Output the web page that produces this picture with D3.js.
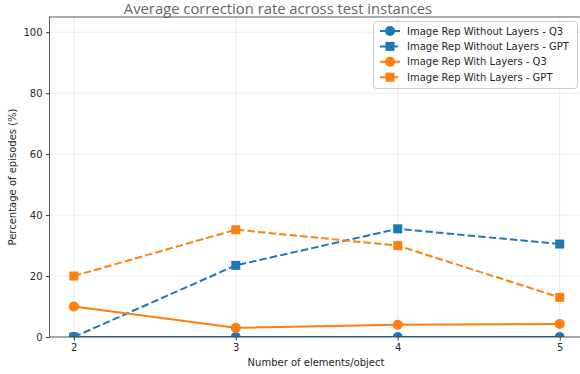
<!DOCTYPE html>
<html>
<head>
<meta charset="utf-8">
<script src="https://cdn.jsdelivr.net/npm/d3@7"></script>
<style>
  body { margin: 0; background: #fff; }
  svg { display: block; font-family: "DejaVu Sans", sans-serif; }
</style>
</head>
<body>
<div id="chart"></div>
<script>
// chart data
var xValues = [2, 3, 4, 5];
var yTicks = [0, 20, 40, 60, 80, 100];
var noLayersQ3 = [0, 0, 0, 0];
var noLayersGPT = [0, 23.5, 35.5, 30.5];
var layersQ3 = [10, 3, 4, 4.3];
var layersGPT = [20, 35.2, 30, 13];
var seriesNames = [
  "Image Rep Without Layers - Q3",
  "Image Rep Without Layers - GPT",
  "Image Rep With Layers - Q3",
  "Image Rep With Layers - GPT"
];

var width = 580, height = 374;
var blue = "#1f77b4", orange = "#ff7f0e";

var series = [
  { name: seriesNames[0], values: noLayersQ3, color: blue, marker: "circle", dash: null },
  { name: seriesNames[1], values: noLayersGPT, color: blue, marker: "square", dash: "7.4,3.2" },
  { name: seriesNames[2], values: layersQ3, color: orange, marker: "circle", dash: null },
  { name: seriesNames[3], values: layersGPT, color: orange, marker: "square", dash: "7.4,3.2" }
];

var x = d3.scaleLinear().domain([1.85, 5.15]).range([49.5, 584]);
var y = d3.scaleLinear().domain([0, 105]).range([337, 17]);

var svg = d3.select("#chart").append("svg")
  .attr("width", width)
  .attr("height", height);

svg.append("defs").append("clipPath").attr("id", "plot")
  .append("rect")
  .attr("x", x.range()[0]).attr("y", y.range()[1])
  .attr("width", x.range()[1] - x.range()[0])
  .attr("height", y.range()[0] - y.range()[1]);

// grid
svg.append("g").selectAll("line").data(yTicks).enter().append("line")
  .attr("x1", x.range()[0]).attr("x2", x.range()[1])
  .attr("y1", d => y(d)).attr("y2", d => y(d))
  .attr("stroke", "#b0b0b0").attr("stroke-opacity", 0.3).attr("stroke-width", 0.8);
svg.append("g").selectAll("line").data(xValues).enter().append("line")
  .attr("x1", d => x(d)).attr("x2", d => x(d))
  .attr("y1", y.range()[0]).attr("y2", y.range()[1])
  .attr("stroke", "#b0b0b0").attr("stroke-opacity", 0.3).attr("stroke-width", 0.8);

// axes
var xAxis = svg.append("g")
  .attr("transform", "translate(0," + y(0) + ")")
  .call(d3.axisBottom(x).tickValues(xValues).tickFormat(d3.format("d")).tickSize(3.5).tickPadding(3.5));
var yAxis = svg.append("g")
  .attr("transform", "translate(" + x.range()[0] + ",0)")
  .call(d3.axisLeft(y).tickValues(yTicks).tickSize(3.5).tickPadding(3.5));
[xAxis, yAxis].forEach(function(a) {
  a.select(".domain").remove();
  a.selectAll("text").attr("font-size", 10).attr("fill", "#262626").attr("font-family", "DejaVu Sans");
  a.selectAll("line").attr("stroke", "#333");
});

// lines + markers
var line = d3.line().x((d, i) => x(xValues[i])).y(d => y(d));

function drawMarker(g, type, color, cx, cy) {
  if (type === "circle") {
    g.append("circle").attr("cx", cx).attr("cy", cy).attr("r", 5)
      .attr("fill", color);
  } else {
    g.append("rect").attr("x", cx - 4.5).attr("y", cy - 4.5)
      .attr("width", 9).attr("height", 9).attr("fill", color);
  }
}

var plot = svg.append("g").attr("clip-path", "url(#plot)");
series.forEach(function(s) {
  var g = plot.append("g");
  g.append("path").datum(s.values)
    .attr("d", line)
    .attr("fill", "none")
    .attr("stroke", s.color)
    .attr("stroke-width", 2)
    .attr("stroke-dasharray", s.dash);
  s.values.forEach(function(v, i) {
    drawMarker(g, s.marker, s.color, x(xValues[i]), y(v));
  });
});

// frame
svg.append("rect")
  .attr("x", x.range()[0]).attr("y", y.range()[1])
  .attr("width", x.range()[1] - x.range()[0])
  .attr("height", y.range()[0] - y.range()[1])
  .attr("fill", "none").attr("stroke", "#333").attr("stroke-width", 0.8);

// legend
var lg = svg.append("g");
lg.append("rect")
  .attr("x", 373.5).attr("y", 21.5).attr("width", 204).attr("height", 67)
  .attr("rx", 3).attr("fill", "#fff").attr("fill-opacity", 0.8)
  .attr("stroke", "#ccc");
series.forEach(function(s, i) {
  var cy = 31 + i * 15.4;
  lg.append("line").attr("x1", 380).attr("x2", 400).attr("y1", cy).attr("y2", cy)
    .attr("stroke", s.color).attr("stroke-width", 2).attr("stroke-dasharray", s.dash);
  drawMarker(lg, s.marker, s.color, 390, cy);
  lg.append("text").attr("x", 407).attr("y", cy + 3.6)
    .attr("font-size", 10).attr("fill", "#262626").text(s.name);
});

// title + labels
svg.append("text")
  .attr("x", 278).attr("y", 14)
  .attr("text-anchor", "middle")
  .attr("font-family", "Open Sans")
  .attr("font-size", 14.8).attr("fill", "#666")
  .text("Average correction rate across test instances");
svg.append("text")
  .attr("x", 316).attr("y", 366)
  .attr("text-anchor", "middle").attr("font-size", 10).attr("fill", "#262626")
  .text("Number of elements/object");
svg.append("text")
  .attr("transform", "translate(16,177) rotate(-90)")
  .attr("text-anchor", "middle").attr("font-size", 10).attr("fill", "#262626")
  .text("Percentage of episodes (%)");
</script>
</body>
</html>
